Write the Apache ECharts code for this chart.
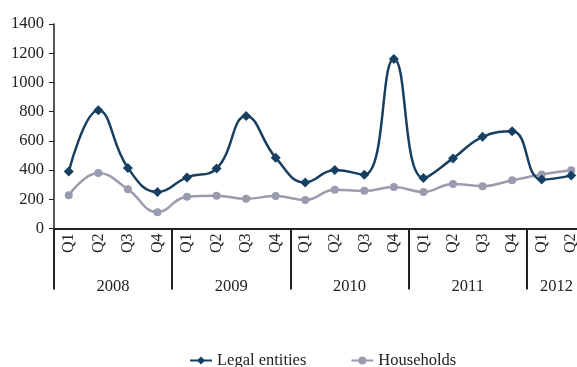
<!DOCTYPE html>
<html>
<head>
<meta charset="utf-8">
<script src="https://cdn.jsdelivr.net/npm/echarts@6/dist/echarts.min.js"></script>
<style>
  html, body { margin: 0; padding: 0; background: #fff; }
  #chart { width: 577px; height: 367px; }
</style>
</head>
<body>
<div id="chart"></div>
<script>
// Quarterly figures, 2008 Q1 – 2012 Q2
const years = ['2008', '2009', '2010', '2011', '2012'];
const quartersPerYear = [4, 4, 4, 4, 2];
const quarterNames = ['Q1', 'Q2', 'Q3', 'Q4'];
const yTicks = [0, 200, 400, 600, 800, 1000, 1200, 1400];

const legalEntities = [
  390, 810, 415, 250,
  350, 410, 770, 485,
  315, 400, 368, 1160,
  345, 480, 628, 665,
  335, 362
];
const households = [
  228, 380, 268, 112,
  218, 225, 204, 222,
  195, 265, 258, 284,
  250, 305, 290, 330,
  370, 398
];

// Build the quarter category list and year-centre positions from the year groups
const quarters = [];
const isYearStart = [];
const yearCentre = {};
let pos = 0;
years.forEach((y, yi) => {
  const n = quartersPerYear[yi];
  for (let q = 0; q < n; q++) {
    quarters.push(quarterNames[q]);
    isYearStart.push(q === 0);
  }
  yearCentre[pos + n / 2] = y;
  pos += n;
});

const serif = 'Liberation Serif';
const ink = '#222';

const chart = echarts.init(document.getElementById('chart'), null, { renderer: 'canvas' });
chart.setOption({
  animation: false,
  backgroundColor: '#fff',
  textStyle: { fontFamily: serif, color: ink },
  // the last year's band runs slightly past the right edge of the page
  grid: {
    left: 54, top: 24, width: 532, height: 204.5,
    containLabel: false, outerBoundsMode: 'none'
  },
  legend: {
    left: 189,
    top: 352,
    padding: 0,
    itemWidth: 22,
    itemHeight: 10,
    itemGap: 44,
    textStyle: { fontFamily: serif, fontSize: 16.5, color: ink },
    data: ['Legal entities', 'Households']
  },
  xAxis: [
    {
      type: 'category',
      data: quarters,
      boundaryGap: true,
      axisLine: { lineStyle: { color: ink, width: 2 } },
      axisTick: {
        show: true,
        length: 61,
        interval: (i) => isYearStart[i] === true,
        lineStyle: { color: ink, width: 2 }
      },
      axisLabel: {
        interval: 0,
        rotate: 90,
        margin: 5,
        fontFamily: serif,
        fontSize: 16,
        color: ink
      }
    },
    {
      type: 'value',
      position: 'bottom',
      min: 0,
      max: quarters.length,
      interval: 1,
      axisLine: { show: false },
      axisTick: { show: false },
      splitLine: { show: false },
      axisLabel: {
        margin: 50,
        fontFamily: serif,
        fontSize: 16.5,
        color: ink,
        formatter: (v) => yearCentre[v] || ''
      }
    }
  ],
  yAxis: {
    type: 'value',
    min: yTicks[0],
    max: yTicks[yTicks.length - 1],
    interval: yTicks[1] - yTicks[0],
    axisLine: { show: true, lineStyle: { color: ink, width: 1.5 } },
    axisTick: { show: true, length: 5, lineStyle: { color: ink } },
    splitLine: { show: false },
    axisLabel: {
      fontFamily: serif, fontSize: 16.5, color: ink, margin: 10,
      formatter: (v) => String(v)
    }
  },
  series: [
    {
      name: 'Legal entities',
      type: 'line',
      xAxisIndex: 0,
      data: legalEntities,
      smooth: 0.45,
      symbol: 'diamond',
      symbolSize: 10,
      lineStyle: { color: '#173f61', width: 2.5 },
      itemStyle: { color: '#173f61' },
      z: 3
    },
    {
      name: 'Households',
      type: 'line',
      xAxisIndex: 0,
      data: households,
      smooth: 0.45,
      symbol: 'circle',
      symbolSize: 8,
      lineStyle: { color: '#9b9bb0', width: 2.5 },
      itemStyle: { color: '#9b9bb0' },
      z: 2
    }
  ]
});
</script>
</body>
</html>
